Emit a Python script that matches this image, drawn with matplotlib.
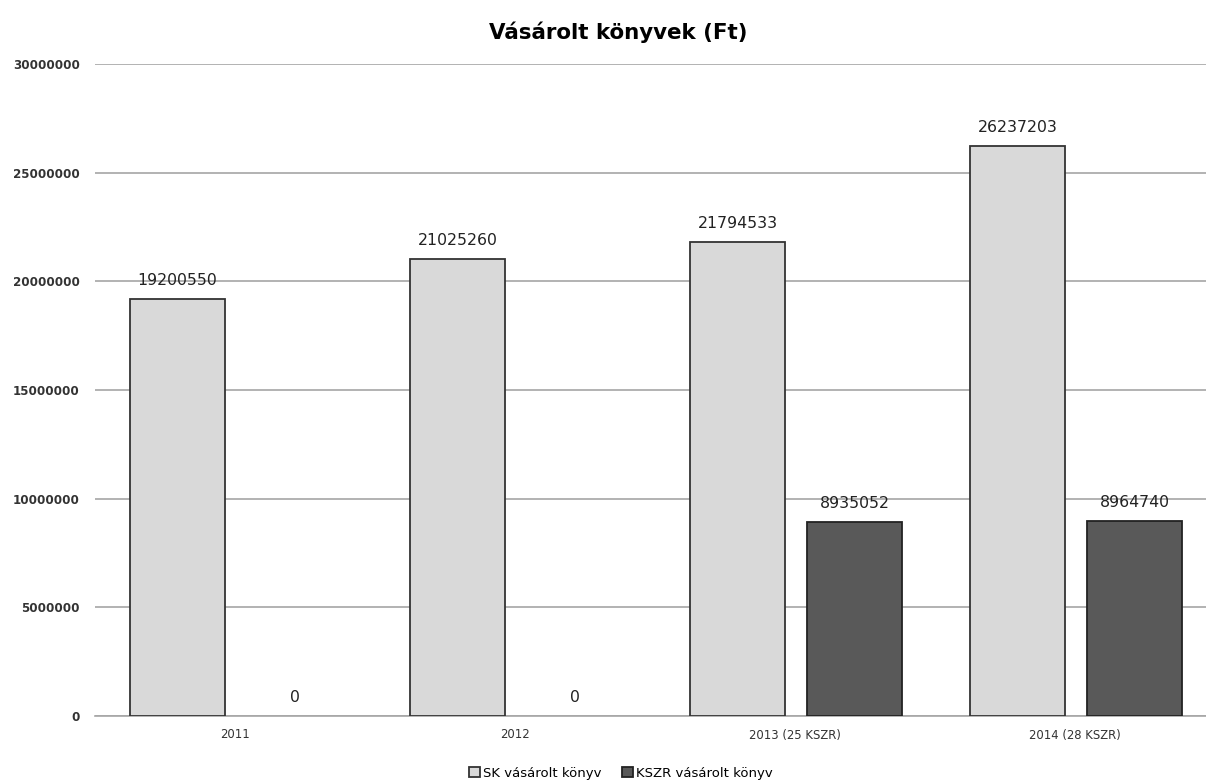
import matplotlib.pyplot as plt
import numpy as np
from matplotlib.patches import Patch

categories = ["2011", "2012", "2013 (25 KSZR)", "2014 (28 KSZR)"]
sk_values = [19200550, 21025260, 21794533, 26237203]
kszr_values = [0, 0, 8935052, 8964740]
series_names = ["SK vásárolt könyv", "KSZR vásárolt könyv"]
y_ticks = [0, 5000000, 10000000, 15000000, 20000000, 25000000, 30000000]

plt.rcParams["font.family"] = ["DejaVu Sans"]

fig = plt.figure(figsize=(12.06, 7.83), dpi=100)
# plot area is cut off on the right side in the original
ax = fig.add_axes([95 / 1206, 67 / 783, 1120 / 1206, 652 / 783])

x = np.arange(len(categories))
width = 0.339
sk_bars = ax.bar(x - 0.205, sk_values, width, color="#d9d9d9", edgecolor="#333333",
                 linewidth=1.3, zorder=3)
kszr_bars = ax.bar(x + 0.213, kszr_values, width, color="#595959", edgecolor="#222222",
                   linewidth=1.3, zorder=3)

for bars in (sk_bars, kszr_bars):
    for b in bars:
        h = b.get_height()
        if h == 0:
            b.set_linewidth(0)
        ax.annotate(f"{h:.0f}", (b.get_x() + b.get_width() / 2, h),
                    xytext=(0, 8), textcoords="offset points",
                    ha="center", va="bottom", fontsize=11.3, color="#222222", zorder=4)

ax.set_xlim(-0.5, 3.5)
ax.set_ylim(0, 30000000)
ax.set_yticks(y_ticks)
ax.set_yticklabels([str(v) for v in y_ticks], fontsize=8.6, fontweight="bold", color="#333333")
ax.set_xticks(x)
ax.set_xticklabels(categories, fontsize=8.4, color="#333333")
ax.tick_params(axis="both", length=0)
ax.tick_params(axis="y", pad=11)
ax.tick_params(axis="x", pad=9)

ax.grid(axis="y", color="#a6a6a6", linewidth=1.2, zorder=0)
for s in ["top", "right", "left"]:
    ax.spines[s].set_visible(False)
ax.spines["bottom"].set_color("#a6a6a6")
ax.spines["bottom"].set_linewidth(1.2)

fig.suptitle("Vásárolt könyvek (Ft)", x=618 / 1206, y=1 - 32 / 783, va="center",
             fontsize=15.4, fontweight="bold")

handles = [
    Patch(facecolor="#d9d9d9", edgecolor="#333333", linewidth=1.3),
    Patch(facecolor="#595959", edgecolor="#222222", linewidth=1.3),
]
fig.legend(handles, series_names, loc="center", bbox_to_anchor=(621 / 1206, 1 - 773 / 783),
           ncol=2, frameon=False, fontsize=9.5, handlelength=0.8, handleheight=0.8,
           handletextpad=0.25, columnspacing=1.6)

fig.savefig("out.png", dpi=100)
